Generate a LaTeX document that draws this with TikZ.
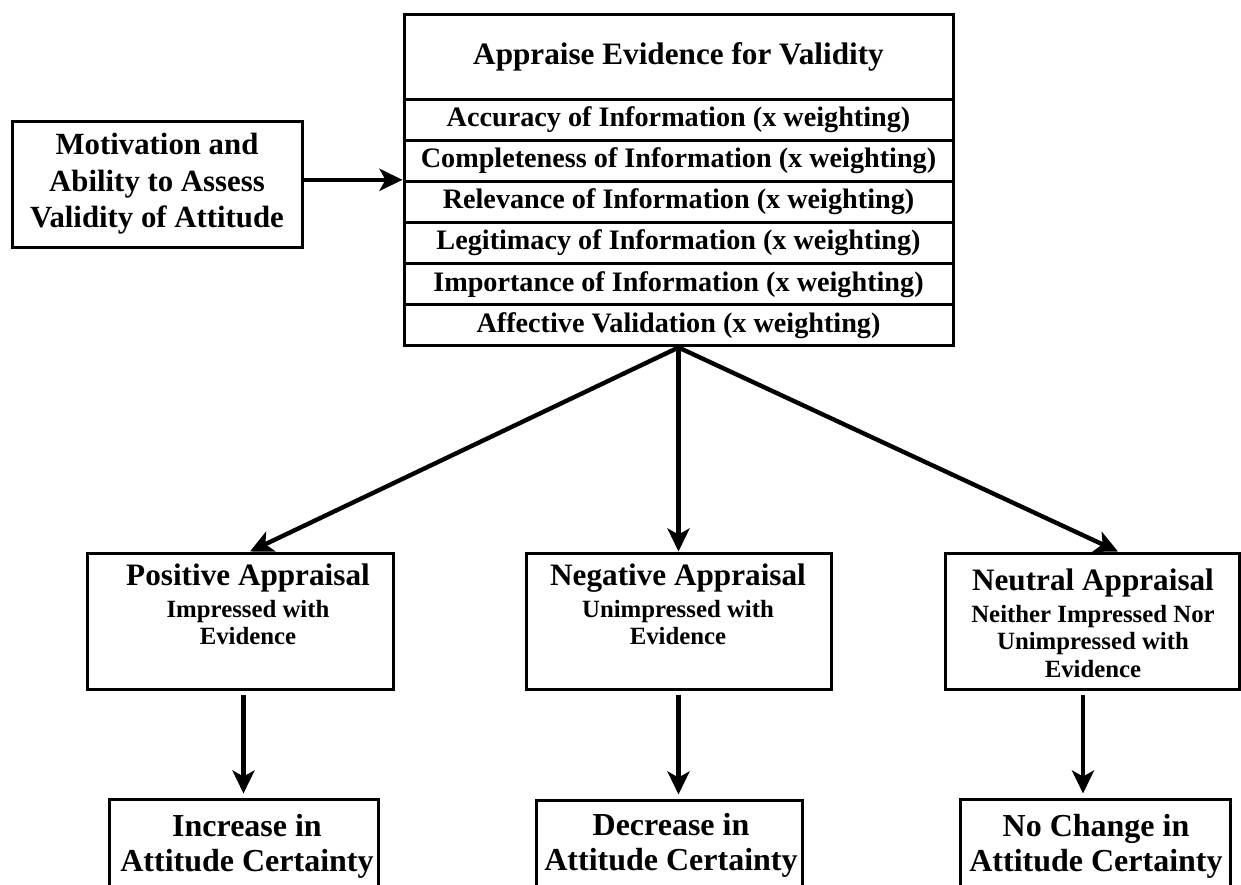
\documentclass[tikz,border=0pt]{standalone}
\usepackage{fontspec}
\setmainfont{Liberation Serif}
\usetikzlibrary{arrows.meta,calc}
\begin{document}
\begin{tikzpicture}[x=0.5pt,y=-0.5pt,
  box/.style={draw, line width=1.5pt, inner sep=0pt, fill=white},
  rowbox/.style={box, minimum width=274.5pt, minimum height=20.58pt, font=\fontsize{14.1}{16}\selectfont\bfseries},
  arr/.style={line width=2.2pt, -{Stealth[length=11.5pt,width=11pt,inset=3pt]}},
  ttl/.style={font=\fontsize{15.6}{18}\selectfont\bfseries, inner sep=0pt, anchor=base},
  subt/.style={font=\fontsize{12.4}{13.6}\selectfont\bfseries, inner sep=0pt, anchor=north, align=center},
  rest/.style={font=\fontsize{16}{17.5}\selectfont\bfseries, inner sep=0pt, anchor=north, align=center},
]
\useasboundingbox (0,0) rectangle (1241,884);
\fill[white] (0,0) rectangle (1241,884);
\clip (0,0) rectangle (1241,884);

% top box
\node[box, minimum width=274.5pt, minimum height=43pt, font=\fontsize{15.6}{18}\selectfont\bfseries] (hdr) at (678.5,57) {Appraise Evidence for Validity};
\node[rowbox] (r1) at (678.5,119.6) {Accuracy of Information (x weighting)};
\node[rowbox] (r2) at (678.5,160.8) {Completeness of Information (x weighting)};
\node[rowbox] (r3) at (678.5,201.9) {Relevance of Information (x weighting)};
\node[rowbox] (r4) at (678.5,243.1) {Legitimacy of Information (x weighting)};
\node[rowbox] (r5) at (678.5,284.3) {Importance of Information (x weighting)};
\node[rowbox] (r6) at (678.5,325.4) {Affective Validation (x weighting)};

% left box
\node[box, minimum width=145pt, minimum height=63pt, align=center, font=\fontsize{15.4}{18.2}\selectfont\bfseries] (mot) at (157,184) {Motivation and\\Ability to Assess\\Validity of Attitude};

% appraisal boxes
\node[box, minimum width=153pt, minimum height=68pt] (pos) at (240,621) {};
\node[box, minimum width=152.5pt, minimum height=68pt] (neg) at (678.5,621) {};
\node[box, minimum width=147pt, minimum height=68pt] (neu) at (1092,621) {};

\node[ttl] (posT) at (248,585) {Positive Appraisal};
\node[subt] (posS) at (248,600) {Impressed with\\Evidence};
\node[ttl] (negT) at (678,585) {Negative Appraisal};
\node[subt] (negS) at (678,600) {Unimpressed with\\Evidence};
\node[ttl] (neuT) at (1093,590) {Neutral Appraisal};
\node[subt] (neuS) at (1093,605) {Neither Impressed Nor\\Unimpressed with\\Evidence};

% result boxes
\node[box, minimum width=134.5pt, minimum height=55pt] (inc) at (243.5,854) {};
\node[box, minimum width=133pt, minimum height=55pt] (dec) at (669,855) {};
\node[box, minimum width=135pt, minimum height=55pt] (noc) at (1095,854) {};

\node[rest] (incT) at (247,814) {Increase in\\Attitude Certainty};
\node[rest] (decT) at (671,813) {Decrease in\\Attitude Certainty};
\node[rest] (nocT) at (1096,814) {No Change in\\Attitude Certainty};

% connectors
\draw[arr] (mot.east |- r3.north west) -- (r3.north west);
\draw[arr] (r6.south) -- ([xshift=5pt]pos.north);
\draw[arr] (r6.south) -- (neg.north);
\draw[arr] (r6.south) -- ([xshift=13pt]neu.north);
\draw[arr, shorten <=2pt, shorten >=2pt] (pos.south -| inc.north) -- (inc.north);
\draw[arr, shorten <=2pt, shorten >=2pt] (neg.south) -- (neg.south |- dec.north);
\draw[arr, shorten <=2pt, shorten >=2pt] ([xshift=-4.5pt]neu.south) -- ([xshift=-4.5pt]neu.south |- noc.north);
\end{tikzpicture}
\end{document}
